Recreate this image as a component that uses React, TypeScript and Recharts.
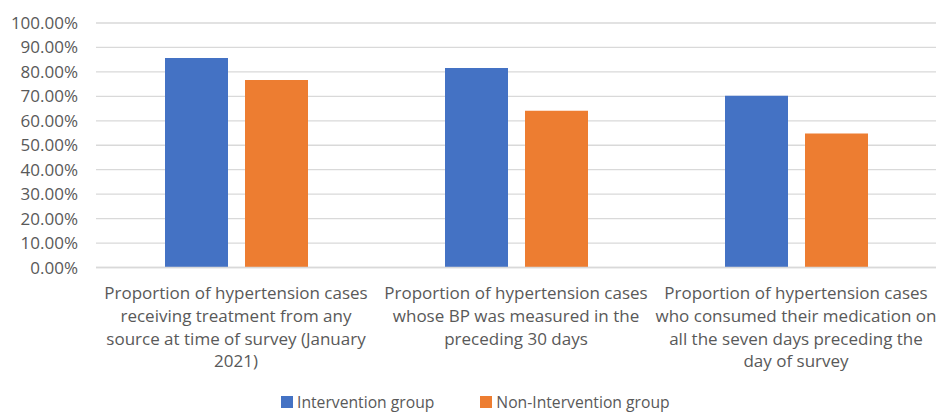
import React from 'react';
import { BarChart, Bar, XAxis, YAxis, CartesianGrid, Legend } from 'recharts';

// Category labels, already broken into lines as in the original figure
const categories = [
  'Proportion of hypertension cases\nreceiving treatment from any\nsource at time of survey (January\n2021)',
  'Proportion of hypertension cases\nwhose BP was measured in the\npreceding 30 days',
  'Proportion of hypertension cases\nwho consumed their medication on\nall the seven days preceding the\nday of survey',
];

const intervention = [0.857, 0.816, 0.702];
const nonIntervention = [0.767, 0.641, 0.548];

const yTicks = [0, 0.1, 0.2, 0.3, 0.4, 0.5, 0.6, 0.7, 0.8, 0.9, 1.0];

const BLUE = '#4472C4';
const ORANGE = '#ED7D31';
const TEXT = '#595959';
const FONT = '"Open Sans", sans-serif';

const data = categories.map((name, i) => ({
  name,
  intervention: intervention[i],
  nonIntervention: nonIntervention[i],
}));

// multi-line x tick, centred under each category
const CategoryTick = ({ x, y, payload }: any) => {
  const lines = String(payload.value).split('\n');
  return (
    <g>
      {lines.map((line, i) => (
        <text
          key={i}
          x={x}
          y={y + 31.5 + i * 22.8}
          textAnchor="middle"
          fill={TEXT}
          fontSize={17}
          fontFamily={FONT}
        >
          {line}
        </text>
      ))}
    </g>
  );
};

const LegendContent = () => (
  <div
    style={{
      display: 'flex',
      justifyContent: 'flex-start',
      alignItems: 'center',
      height: 20,
      fontFamily: FONT,
      fontSize: 15.7,
      lineHeight: '20px',
      color: TEXT,
      paddingLeft: 281,
      position: 'relative',
      top: -2,
      whiteSpace: 'nowrap',
    }}
  >
    <span style={{ display: 'inline-block', width: 12, height: 12, background: BLUE, marginRight: 4 }} />
    <span style={{ marginRight: 46 }}>Intervention group</span>
    <span style={{ display: 'inline-block', width: 12, height: 12, background: ORANGE, marginRight: 4 }} />
    <span>Non-Intervention group</span>
  </div>
);

export default function App() {
  return (
    <div style={{ position: 'absolute', left: 0, top: 0, background: '#fff' }}>
      <BarChart
        width={938}
        height={414}
        data={data}
        margin={{ top: 23, right: 2, left: 0, bottom: 0 }}
        barGap={17}
      >
        <CartesianGrid vertical={false} stroke="#D9D9D9" strokeWidth={1.3} />
        <XAxis
          dataKey="name"
          interval={0}
          height={126.5}
          tickLine={false}
          tickSize={0}
          tickMargin={0}
          axisLine={{ stroke: '#D9D9D9', strokeWidth: 1.3 }}
          tick={<CategoryTick />}
        />
        <YAxis
          width={96}
          domain={[0, 1]}
          ticks={yTicks}
          interval={0}
          axisLine={false}
          tickLine={false}
          tickSize={0}
          tickMargin={18}
          tickFormatter={(v: number) => `${(v * 100).toFixed(2)}%`}
          tick={{ fill: TEXT, fontSize: 17, fontFamily: FONT }}
        />
        <Legend verticalAlign="bottom" content={<LegendContent />} />
        <Bar dataKey="intervention" name="Intervention group" fill={BLUE} barSize={63} isAnimationActive={false} />
        <Bar dataKey="nonIntervention" name="Non-Intervention group" fill={ORANGE} barSize={63} isAnimationActive={false} />
      </BarChart>
    </div>
  );
}
